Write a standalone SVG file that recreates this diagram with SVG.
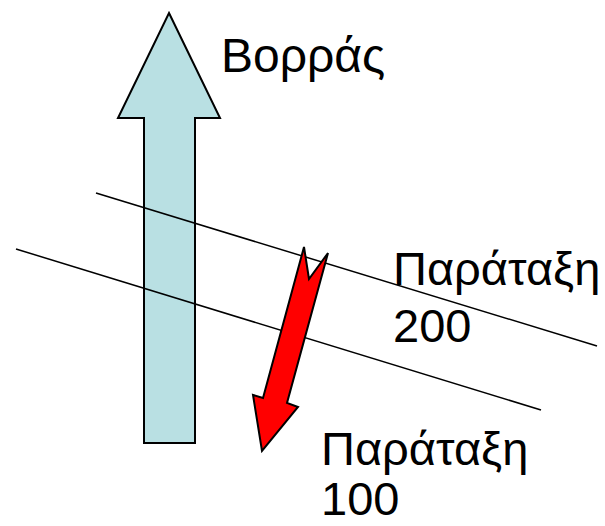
<svg xmlns="http://www.w3.org/2000/svg" width="605" height="526" viewBox="0 0 605 526">
<style>
.lbl{font-family:"Liberation Sans",Arial,sans-serif;font-size:47px;fill:#000}
.ln{stroke:#000;stroke-width:1.5;fill:none}
</style>
<rect width="605" height="526" fill="#fff"/>
<g id="north-arrow">
<polygon points="169,13 220,118 195,118 195,443 144,443 144,118 118,118" fill="#b9e0e3" stroke="#000" stroke-width="2" stroke-linejoin="miter"/>
</g>
<g id="connectors">
<line class="ln" x1="96" y1="193" x2="597" y2="346"/>
<line class="ln" x1="16" y1="249" x2="541" y2="410"/>
</g>
<g id="dip-arrow">
<polygon points="304,247 309,279 328,253 287,403 298,407 262,451 253,395 263,398" fill="#ff0000" stroke="#000" stroke-width="2" stroke-linejoin="miter"/>
</g>
<g id="label-north"><text class="lbl" x="221" y="72" style="font-size:48px">Βορράς</text></g>
<g id="label-200"><text class="lbl" x="393" y="285">Παράταξη</text><text class="lbl" x="393" y="342">200</text></g>
<g id="label-100"><text class="lbl" x="321" y="465">Παράταξη</text><text class="lbl" x="321" y="515">100</text></g>
</svg>
